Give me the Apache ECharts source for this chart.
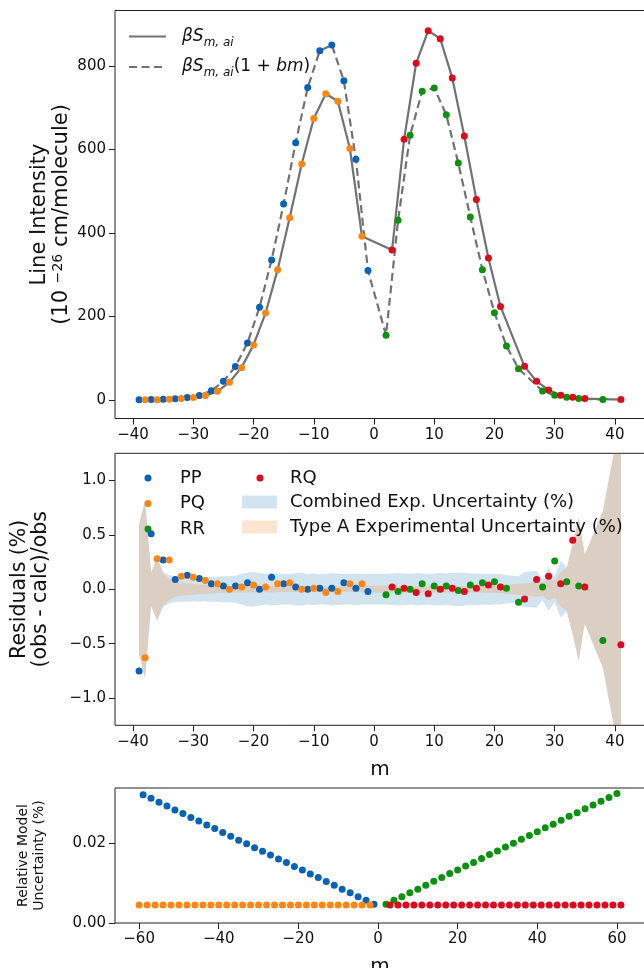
<!DOCTYPE html>
<html>
<head>
<meta charset="utf-8">
<script src="https://cdn.jsdelivr.net/npm/echarts@6.0.0/dist/echarts.min.js"></script>
<style>
  html, body { margin: 0; padding: 0; background: #fff; }
  #chart { width: 644px; height: 968px; }
</style>
</head>
<body>
<div id="chart"></div>
<script>
const FONT = 'DejaVu Sans';
const C_PP = '#0662b8', C_PQ = '#ff8514', C_RR = '#0a920f', C_RQ = '#e0081a';

// m values of each branch (top and middle panels)
const ppM = [-39,-37,-35,-33,-31,-29,-27,-25,-23,-21,-19,-17,-15,-13,-11,-9,-7,-5,-3,-1];
const pqM = [-38,-36,-34,-32,-30,-28,-26,-24,-22,-20,-18,-16,-14,-12,-10,-8,-6,-4,-2];
const rrM = [2,4,6,8,10,12,14,16,18,20,22,24,28,30,32,34,38];
const rqM = [3,5,7,9,11,13,15,17,19,21,25,27,29,31,33,35,41];

// line intensity (1e-26 cm/molecule)
const ppInt = [0.4,0.9,1.6,3,5.6,10.4,22,44.7,80,136.5,222,335,469,616,748,836,850,764,576,310];
const pqInt = [0.3,0.7,1.5,3.2,5.6,10.4,20.8,42.3,77.4,131.7,208,312,436,565,674,733,715,602,392];
const rrInt = [155,430,634,739,747,683,567,438,312,209,129,75,21.5,11.2,6.4,3.2,0.8];
const rqInt = [359,624,806,884,865,771,632,480,340,224,80.5,44.6,23.9,11.2,6.4,3.2,0.8];

// residuals (%)
const ppRes = [-0.75,0.51,0.27,0.09,0.13,0.10,0.05,0.03,0.03,0.06,0.0,0.11,0.05,0.02,0.0,0.01,0.01,0.06,0.01,-0.02];
const pqRes = [-0.63,0.28,0.27,0.12,0.11,0.08,0.05,0.0,0.02,0.04,0.02,0.05,0.06,0.0,0.01,-0.03,-0.02,0.05,0.05];
const rrRes = [-0.05,-0.02,0.0,0.05,0.03,0.03,-0.01,0.04,0.06,0.07,0.01,-0.12,0.02,0.26,0.07,0.03,-0.47];
const rqRes = [0.02,0.01,-0.03,-0.04,0.0,0.01,-0.02,0.01,0.04,0.02,-0.09,0.09,0.12,0.05,0.45,0.02,-0.51];

// uncertainty bands (half widths, %)
const bandM = [-39,-38,-37,-36,-35,-34,-33,-32,-31,-30,-29,-28,-27,-26,-25,-24,-23,-22,-21,-20,
  -19,-18,-17,-16,-15,-14,-13,-12,-11,-10,-9,-8,-7,-6,-5,-4,-3,-2,-1,
  2,3,4,5,6,7,8,9,10,11,12,13,14,15,16,17,18,19,20,21,22,
  24,25,27,28,29,30,31,32,33,34,35,38,41];
const typeAUnc = [0.60,0.82,0.15,0.29,0.15,0.10,0.07,0.06,0.055,0.05,
  0.045,0.04,0.04,0.035,0.035,0.03,0.03,0.03,0.03,0.025,
  0.03,0.025,0.03,0.025,0.025,0.025,0.025,0.025,0.025,0.025,
  0.025,0.025,0.025,0.025,0.025,0.025,0.025,0.025,0.03,
  0.035,0.03,0.03,0.03,0.03,0.03,0.03,0.03,0.03,0.03,
  0.03,0.03,0.03,0.03,0.03,0.03,0.03,0.035,0.035,0.035,0.04,
  0.05,0.05,0.07,0.06,0.10,0.08,0.16,0.20,0.42,0.66,0.32,0.72,1.6];
const combUnc = [0.60,0.82,0.16,0.29,0.16,0.13,0.12,0.115,0.115,0.11,
  0.115,0.11,0.115,0.115,0.12,0.12,0.125,0.14,0.155,0.16,
  0.15,0.14,0.15,0.145,0.14,0.14,0.15,0.15,0.14,0.145,
  0.14,0.14,0.15,0.145,0.14,0.14,0.145,0.14,0.14,
  0.14,0.145,0.15,0.145,0.14,0.15,0.145,0.14,0.145,0.15,
  0.145,0.15,0.155,0.15,0.145,0.145,0.14,0.145,0.14,0.14,0.13,
  0.12,0.16,0.17,0.10,0.20,0.12,0.26,0.20,0.42,0.66,0.32,0.72,1.6];

// bottom panel: relative model uncertainty (%)
const modPPm = [-59,-57,-55,-53,-51,-49,-47,-45,-43,-41,-39,-37,-35,-33,-31,-29,-27,-25,-23,-21,-19,-17,-15,-13,-11,-9,-7,-5,-3,-1];
const modPP = [0.0322,0.0313,0.0303,0.0294,0.0284,0.0275,0.0265,0.0256,0.0246,0.0237,0.0227,0.0218,0.0208,0.0199,0.0189,
  0.0180,0.0171,0.0161,0.0152,0.0142,0.0133,0.0123,0.0114,0.0104,0.0095,0.0085,0.0076,0.0066,0.0057,0.0047];
const modPQm = [-60,-58,-56,-54,-52,-50,-48,-46,-44,-42,-40,-38,-36,-34,-32,-30,-28,-26,-24,-22,-20,-18,-16,-14,-12,-10,-8,-6,-4,-2];
const modPQ = [0.0045,0.0045,0.0045,0.0045,0.0045,0.0045,0.0045,0.0045,0.0045,0.0045,0.0045,0.0045,0.0045,0.0045,0.0045,
  0.0045,0.0045,0.0045,0.0045,0.0045,0.0045,0.0045,0.0045,0.0045,0.0045,0.0045,0.0045,0.0045,0.0045,0.0045];
const modRRm = [2,4,6,8,10,12,14,16,18,20,22,24,26,28,30,32,34,36,38,40,42,44,46,48,50,52,54,56,58,60];
const modRR = [0.0047,0.0057,0.0066,0.0076,0.0085,0.0095,0.0105,0.0114,0.0124,0.0133,0.0143,0.0152,0.0162,0.0172,0.0181,
  0.0191,0.0200,0.0210,0.0220,0.0229,0.0239,0.0248,0.0258,0.0268,0.0277,0.0287,0.0296,0.0306,0.0315,0.0325];
const modRQm = [3,5,7,9,11,13,15,17,19,21,23,25,27,29,31,33,35,37,39,41,43,45,47,49,51,53,55,57,59,61];
const modRQ = [0.0045,0.0045,0.0045,0.0045,0.0045,0.0045,0.0045,0.0045,0.0045,0.0045,0.0045,0.0045,0.0045,0.0045,0.0045,
  0.0045,0.0045,0.0045,0.0045,0.0045,0.0045,0.0045,0.0045,0.0045,0.0045,0.0045,0.0045,0.0045,0.0045,0.0045];

const mTicks = [-40,-30,-20,-10,0,10,20,30,40];
const intTicks = [0,200,400,600,800];
const resTicks = [-1,-0.5,0,0.5,1];
const modMTicks = [-60,-40,-20,0,20,40,60];
const modTicks = [0,0.02];

const SOLID = 'βSm,ai';
const DASHED = 'βSm,ai(1+bm)';
const COMB = 'Combined Exp. Uncertainty (%)';
const TYPEA = 'Type A Experimental Uncertainty (%)';
const COMB_FILL = 'rgba(31,119,180,0.2)';
const TYPEA_FILL = 'rgba(255,127,14,0.2)';

const pts = (xs, ys) => xs.map((x, i) => [x, ys[i]]);
const minus = s => String(s).replace('-', '\u2212');

function dots(name, color, idx, xs, ys) {
  return {
    type: 'scatter', name, xAxisIndex: idx, yAxisIndex: idx,
    data: pts(xs, ys), symbolSize: 7, itemStyle: { color, opacity: 1 }, z: 5, silent: true
  };
}

// symmetric band +/- half around zero, drawn as one polygon through the axes
function band(name, color, half) {
  return {
    type: 'custom', name, xAxisIndex: 1, yAxisIndex: 1, silent: true, z: 1,
    data: pts(bandM, half), encode: { x: 0, y: 1 },
    itemStyle: { color },
    renderItem: (params, api) => {
      if (params.dataIndex !== 0) return null;
      const upper = bandM.map((m, i) => api.coord([m, half[i]]));
      const lower = bandM.map((m, i) => api.coord([m, -half[i]])).reverse();
      const cs = params.coordSys;
      return {
        type: 'polygon',
        shape: { points: upper.concat(lower) },
        style: { fill: color },
        clipPath: { type: 'rect', shape: { x: cs.x, y: cs.y, width: cs.width, height: cs.height } }
      };
    }
  };
}

const tickStyle = { length: 6, lineStyle: { color: '#222', width: 1 } };
const labelStyle = { fontSize: 15, color: '#111', fontFamily: FONT, margin: 9 };

function xAx(idx, min, max, ticks, name) {
  return {
    type: 'value', gridIndex: idx, min, max,
    name: name || '', nameLocation: 'middle', nameGap: 34, nameMoveOverlap: false,
    nameTextStyle: { fontSize: 20, color: '#111', fontFamily: FONT },
    axisLine: { show: false, onZero: false }, splitLine: { show: false },
    axisTick: Object.assign({ customValues: ticks }, tickStyle),
    axisLabel: Object.assign({ customValues: ticks, formatter: v => minus(v) }, labelStyle)
  };
}

function yAx(idx, min, max, ticks, digits, name, nameGap, nameStyle) {
  return {
    type: 'value', gridIndex: idx, min, max,
    name, nameLocation: 'middle', nameRotate: 90, nameGap, nameMoveOverlap: false,
    nameTextStyle: Object.assign({ color: '#111', fontFamily: FONT }, nameStyle),
    axisLine: { show: false, onZero: false }, splitLine: { show: false },
    axisTick: Object.assign({ customValues: ticks }, tickStyle),
    axisLabel: Object.assign({
      customValues: ticks,
      formatter: v => minus(digits == null ? v : v.toFixed(digits))
    }, labelStyle)
  };
}

const gridBase = { left: 115, right: -1, show: true, borderColor: '#222', borderWidth: 1,
  backgroundColor: 'transparent', containLabel: false, outerBoundsMode: 'none' };

const legendText = { color: '#111', fontFamily: FONT, fontSize: 18 };

const chart = echarts.init(document.getElementById('chart'), null, { renderer: 'canvas' });

chart.setOption({
  animation: false,
  backgroundColor: '#fff',
  textStyle: { fontFamily: FONT },
  grid: [
    Object.assign({ top: 10.5, height: 408 }, gridBase),
    Object.assign({ top: 453.3, height: 272 }, gridBase),
    Object.assign({ top: 788, height: 135 }, gridBase)
  ],
  xAxis: [
    xAx(0, -43, 45, mTicks),
    xAx(1, -43, 45, mTicks, 'm'),
    xAx(2, -66.05, 67.05, modMTicks, 'm')
  ],
  yAxis: [
    yAx(0, -44.4, 932.4, intTicks, null, 'Line Intensity\n(10 {sup|\u221226} cm/molecule)', 42,
      { fontSize: 21, lineHeight: 22, rich: { sup: { fontSize: 14, lineHeight: 14, verticalAlign: 'top', fontFamily: FONT } } }),
    yAx(1, -1.25, 1.25, resTicks, 1, 'Residuals (%)\n(obs - calc)/obs', 64,
      { fontSize: 20.5, lineHeight: 21 }),
    yAx(2, 0, 0.0339, modTicks, 2, 'Relative Model\nUncertainty (%)', 68,
      { fontSize: 14, lineHeight: 16 })
  ],
  legend: [
    {
      data: [SOLID, DASHED], orient: 'vertical', left: 128, top: 28, padding: 0,
      itemWidth: 37, itemHeight: 14, itemGap: 10,
      itemStyle: { opacity: 0 },
      formatter: n => n === SOLID ? '{sp| }{i|βS}{s|m, ai}' : '{sp| }{i|βS}{s|m, ai}{n|(1 + }{i|bm}{n|)}',
      textStyle: {
        color: '#111', fontFamily: FONT, fontSize: 17,
        rich: {
          sp: { width: 11, fontSize: 17, lineHeight: 24 },
          i: { fontStyle: 'italic', fontSize: 17, lineHeight: 24, fontFamily: FONT },
          n: { fontSize: 17, lineHeight: 24, fontFamily: FONT },
          s: { fontStyle: 'italic', fontSize: 12, lineHeight: 16, verticalAlign: 'bottom', fontFamily: FONT }
        }
      }
    },
    {
      data: [{ name: 'PP', icon: 'circle' }, { name: 'PQ', icon: 'circle' }, { name: 'RR', icon: 'circle' }],
      orient: 'vertical', left: 144.5, top: 469, padding: 0,
      itemWidth: 7, itemHeight: 7, itemGap: 7.5,
      formatter: n => '{sp| }' + n,
      textStyle: Object.assign({ rich: { sp: { width: 23.5, fontSize: 18 } } }, legendText)
    },
    {
      data: [{ name: 'RQ', icon: 'circle' }],
      orient: 'vertical', left: 256.5, top: 469, padding: 0,
      itemWidth: 7, itemHeight: 7,
      formatter: n => '{sp| }' + n,
      textStyle: Object.assign({ rich: { sp: { width: 21.5, fontSize: 18 } } }, legendText)
    },
    {
      data: [
        { name: COMB, icon: 'rect', itemStyle: { color: COMB_FILL, borderWidth: 0 } },
        { name: TYPEA, icon: 'rect', itemStyle: { color: TYPEA_FILL, borderWidth: 0 } }
      ],
      orient: 'vertical', left: 242, top: 493, padding: 0,
      itemWidth: 35, itemHeight: 13, itemGap: 7, symbolKeepAspect: false,
      formatter: n => '{sp| }' + n,
      textStyle: Object.assign({ rich: { sp: { width: 8, fontSize: 18 } } }, legendText)
    }
  ],
  series: [
    {
      type: 'line', name: SOLID, xAxisIndex: 0, yAxisIndex: 0,
      data: pts(pqM, pqInt).concat(pts(rqM, rqInt)),
      symbol: 'none', showSymbol: false, silent: true, z: 3,
      itemStyle: { color: '#727272' },
      lineStyle: { color: '#727272', width: 2.2 }
    },
    {
      type: 'line', name: DASHED, xAxisIndex: 0, yAxisIndex: 0,
      data: pts(ppM, ppInt).concat(pts(rrM, rrInt)),
      symbol: 'none', showSymbol: false, silent: true, z: 3,
      itemStyle: { color: '#727272' },
      lineStyle: { color: '#727272', width: 2.2, type: [8, 4.5] }
    },
    dots('PP', C_PP, 0, ppM, ppInt),
    dots('PQ', C_PQ, 0, pqM, pqInt),
    dots('RR', C_RR, 0, rrM, rrInt),
    dots('RQ', C_RQ, 0, rqM, rqInt),

    band(COMB, COMB_FILL, combUnc),
    band(TYPEA, TYPEA_FILL, typeAUnc),
    dots('PP', C_PP, 1, ppM, ppRes),
    dots('PQ', C_PQ, 1, pqM, pqRes),
    dots('RR', C_RR, 1, rrM, rrRes),
    dots('RQ', C_RQ, 1, rqM, rqRes),

    dots('PP', C_PP, 2, modPPm, modPP),
    dots('PQ', C_PQ, 2, modPQm, modPQ),
    dots('RR', C_RR, 2, modRRm, modRR),
    dots('RQ', C_RQ, 2, modRQm, modRQ)
  ]
});
</script>
</body>
</html>
